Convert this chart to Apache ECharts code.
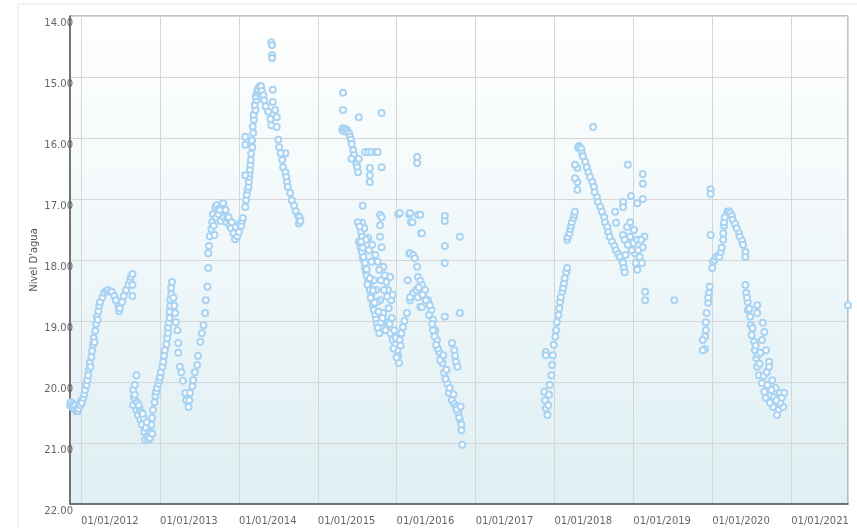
<!DOCTYPE html>
<html>
<head>
<meta charset="utf-8">
<script src="https://cdn.jsdelivr.net/npm/echarts@6/dist/echarts.min.js"></script>
<style>
  html, body { margin: 0; padding: 0; background: #fff; }
  #chart { width: 857px; height: 528px; }
</style>
</head>
<body>
<div id="chart"></div>
<script>
// [año decimal, nivel d'agua]
const medidas2011_2012 = [
  [2011.85, 20.30], [2011.86, 20.38], [2011.87, 20.33], [2011.89, 20.41], [2011.90, 20.36], [2011.91, 20.44],
  [2011.92, 20.39], [2011.94, 20.48], [2011.95, 20.43], [2011.96, 20.48], [2011.97, 20.44], [2011.99, 20.38],
  [2012.00, 20.31], [2012.01, 20.34], [2012.03, 20.26], [2012.04, 20.20], [2012.05, 20.13], [2012.06, 20.05],
  [2012.07, 20.05], [2012.08, 19.97], [2012.09, 19.89], [2012.10, 19.79], [2012.11, 19.69], [2012.12, 19.75],
  [2012.13, 19.59], [2012.14, 19.49], [2012.15, 19.39], [2012.16, 19.28], [2012.17, 19.35], [2012.18, 19.16],
  [2012.19, 19.05], [2012.20, 18.93], [2012.21, 18.98], [2012.22, 18.84], [2012.23, 18.75], [2012.24, 18.69],
  [2012.27, 18.61], [2012.29, 18.54], [2012.32, 18.51], [2012.34, 18.49], [2012.37, 18.52], [2012.39, 18.52],
  [2012.42, 18.59], [2012.44, 18.66], [2012.47, 18.75], [2012.48, 18.84], [2012.49, 18.79], [2012.51, 18.70],
  [2012.52, 18.69], [2012.54, 18.59], [2012.57, 18.49], [2012.60, 18.41], [2012.62, 18.33], [2012.63, 18.28],
  [2012.65, 18.23], [2012.65, 18.41], [2012.65, 18.59]
]

const medidas2012_2014 = [
  [2012.66, 20.13], [2012.67, 20.26], [2012.66, 20.38], [2012.68, 20.21], [2012.70, 19.89], [2012.70, 20.46],
  [2012.71, 20.34], [2012.72, 20.54], [2012.74, 20.43], [2012.75, 20.62], [2012.76, 20.49], [2012.77, 20.70],
  [2012.79, 20.59], [2012.80, 20.82], [2012.81, 20.95], [2012.82, 20.75], [2012.84, 20.89], [2012.85, 20.95],
  [2012.86, 20.82], [2012.87, 20.92], [2012.89, 20.70], [2012.90, 20.59], [2012.91, 20.46], [2012.93, 20.33],
  [2012.94, 20.23], [2012.95, 20.16], [2012.96, 20.10], [2012.98, 20.03], [2012.99, 19.97], [2013.00, 19.92],
  [2012.68, 20.05], [2012.73, 20.38], [2012.78, 20.52], [2012.83, 20.66], [2012.88, 20.82], [2012.90, 20.85],
  [2013.01, 19.84], [2013.03, 19.75], [2013.04, 19.67], [2013.05, 19.57], [2013.06, 19.48], [2013.08, 19.38],
  [2013.09, 19.28], [2013.10, 19.11], [2013.10, 19.20], [2013.11, 19.03], [2013.12, 18.95], [2013.12, 18.85],
  [2013.13, 18.75], [2013.13, 18.65], [2013.14, 18.56], [2013.14, 18.46], [2013.15, 18.36], [2013.17, 18.62],
  [2013.18, 18.75], [2013.19, 18.87], [2013.20, 19.02], [2013.22, 19.15], [2013.23, 19.36], [2013.23, 19.52],
  [2013.25, 19.75], [2013.27, 19.84], [2013.29, 19.98], [2013.32, 20.18], [2013.33, 20.30], [2013.36, 20.41],
  [2013.37, 20.30], [2013.38, 20.18], [2013.41, 20.07], [2013.42, 19.97], [2013.44, 19.84], [2013.47, 19.72],
  [2013.48, 19.57], [2013.51, 19.34], [2013.53, 19.20], [2013.55, 19.07], [2013.57, 18.87], [2013.58, 18.66],
  [2013.60, 18.44], [2013.61, 18.13], [2013.61, 17.89], [2013.62, 17.77], [2013.63, 17.61], [2013.65, 17.49],
  [2013.66, 17.38], [2013.67, 17.25], [2013.68, 17.44], [2013.69, 17.59], [2013.70, 17.13], [2013.71, 17.30],
  [2013.72, 17.10], [2013.74, 17.25], [2013.75, 17.15], [2013.76, 17.18], [2013.77, 17.36], [2013.79, 17.10],
  [2013.80, 17.07], [2013.81, 17.30], [2013.83, 17.18], [2013.84, 17.38], [2013.85, 17.31], [2013.87, 17.30],
  [2013.88, 17.43], [2013.90, 17.48], [2013.91, 17.38], [2013.93, 17.56], [2013.95, 17.66], [2013.96, 17.46],
  [2013.98, 17.61], [2014.00, 17.54], [2014.01, 17.41], [2014.03, 17.44], [2014.04, 17.36], [2014.05, 17.31],
  [2014.08, 17.13], [2014.09, 17.02], [2014.10, 16.93], [2014.11, 16.85], [2014.12, 16.80], [2014.125, 16.72],
  [2014.13, 16.64], [2014.135, 16.58], [2014.14, 16.52], [2014.145, 16.44], [2014.15, 16.36], [2014.155, 16.26],
  [2014.17, 16.15], [2014.165, 16.04], [2014.18, 15.92], [2014.175, 15.81], [2014.19, 15.70], [2014.185, 15.62],
  [2014.21, 15.54], [2014.20, 15.46], [2014.22, 15.38], [2014.215, 15.32], [2014.23, 15.26], [2014.235, 15.22],
  [2014.24, 15.20], [2014.26, 15.16], [2014.27, 15.15], [2014.28, 15.15], [2014.29, 15.23], [2014.31, 15.30],
  [2014.32, 15.38], [2014.34, 15.48], [2014.37, 15.57], [2014.40, 15.69], [2014.41, 15.79],
  [2014.08, 15.98], [2014.08, 16.11], [2014.08, 16.61],
  [2014.41, 14.43], [2014.42, 14.48], [2014.42, 14.64], [2014.42, 14.69], [2014.43, 15.21], [2014.43, 15.41],
  [2014.46, 15.54], [2014.48, 15.66], [2014.48, 15.82], [2014.59, 16.25],
  [2014.50, 16.03], [2014.51, 16.15], [2014.53, 16.25], [2014.55, 16.36], [2014.56, 16.48], [2014.59, 16.56],
  [2014.60, 16.64], [2014.61, 16.72], [2014.62, 16.80], [2014.65, 16.90], [2014.67, 17.02], [2014.70, 17.11],
  [2014.72, 17.20], [2014.75, 17.28], [2014.76, 17.40], [2014.77, 17.30], [2014.78, 17.36]
]

const medidas2015_2016 = [
  [2015.32, 15.26], [2015.32, 15.54], [2015.52, 15.66], [2015.81, 15.59],
  [2015.31, 15.87], [2015.32, 15.84], [2015.33, 15.89], [2015.35, 15.85], [2015.36, 15.89], [2015.37, 15.87],
  [2015.38, 15.90], [2015.40, 15.93], [2015.41, 15.98], [2015.42, 16.03], [2015.43, 16.10], [2015.45, 16.20],
  [2015.46, 16.28], [2015.47, 16.36], [2015.49, 16.43], [2015.50, 16.48], [2015.51, 16.56],
  [2015.43, 16.34], [2015.52, 16.34], [2015.60, 16.23], [2015.64, 16.23], [2015.68, 16.23], [2015.73, 16.23],
  [2015.76, 16.23], [2015.66, 16.49], [2015.66, 16.61], [2015.66, 16.72], [2015.81, 16.48], [2016.26, 16.31],
  [2016.26, 16.41],
  [2015.57, 17.11], [2015.56, 17.39], [2015.79, 17.26], [2015.81, 17.30], [2015.79, 17.43], [2016.02, 17.25],
  [2016.16, 17.25], [2016.18, 17.38], [2016.27, 17.26], [2016.61, 17.28], [2016.61, 17.36], [2016.31, 17.56],
  [2016.80, 17.62], [2016.61, 17.77], [2016.61, 18.05], [2016.16, 17.89],
  [2015.51, 17.38], [2015.54, 17.46], [2015.55, 17.54], [2015.56, 17.62], [2015.52, 17.70], [2015.54, 17.79],
  [2015.56, 17.87], [2015.57, 17.97], [2015.59, 18.03], [2015.60, 18.13], [2015.61, 18.20], [2015.62, 18.26],
  [2015.64, 18.33], [2015.65, 18.41], [2015.66, 18.49], [2015.68, 18.57], [2015.69, 18.66], [2015.70, 18.74],
  [2015.71, 18.82], [2015.73, 18.90], [2015.74, 18.98], [2015.75, 19.05], [2015.76, 19.11],
  [2015.64, 17.64], [2015.69, 17.75], [2015.73, 17.92], [2015.76, 18.03], [2015.79, 17.62], [2015.81, 17.79],
  [2015.83, 18.11], [2015.85, 18.25], [2015.87, 18.36], [2015.89, 18.49], [2015.92, 18.28], [2015.93, 18.66],
  [2015.95, 18.57], [2015.79, 18.66], [2015.83, 18.87], [2015.87, 19.10], [2015.92, 19.20], [2015.95, 19.31],
  [2015.98, 19.39], [2016.01, 19.48], [2016.03, 19.69], [2016.02, 19.57], [2015.99, 19.28], [2015.94, 18.95],
  [2015.90, 18.79], [2015.84, 18.49], [2015.80, 18.33], [2015.78, 18.16], [2015.74, 18.49], [2015.71, 18.33],
  [2015.68, 18.03], [2015.65, 17.84], [2015.61, 17.67], [2015.59, 17.48], [2015.75, 18.69], [2015.80, 19.02],
  [2015.89, 19.02], [2015.97, 19.15], [2016.04, 19.31], [2016.08, 19.10], [2016.13, 18.87], [2016.17, 18.66],
  [2016.21, 18.54], [2016.25, 18.49], [2016.27, 18.61], [2016.30, 18.77], [2016.32, 18.77], [2016.14, 18.33],
  [2016.17, 18.61], [2016.04, 17.23], [2016.17, 17.23], [2016.30, 17.26], [2016.20, 17.38], [2016.32, 17.56],
  [2015.53, 17.45], [2015.55, 17.70], [2015.57, 17.80], [2015.58, 17.95], [2015.60, 18.05], [2015.62, 18.15],
  [2015.63, 18.40], [2015.66, 18.30], [2015.67, 18.62], [2015.70, 18.50], [2015.72, 18.70], [2015.77, 18.85],
  [2015.78, 19.20], [2015.82, 18.95], [2015.86, 19.15], [2015.88, 18.60], [2015.91, 19.05], [2015.96, 19.45],
  [2016.00, 19.60], [2016.05, 19.40], [2016.10, 19.00], [2016.06, 19.20],
  [2016.17, 17.89], [2016.21, 17.92], [2016.23, 17.97], [2016.26, 18.11], [2016.27, 18.28], [2016.30, 18.34],
  [2016.32, 18.41], [2016.36, 18.49], [2016.40, 18.66], [2016.44, 18.82], [2016.46, 18.98], [2016.49, 19.15],
  [2016.51, 19.31], [2016.54, 19.51], [2016.58, 19.69], [2016.60, 19.85], [2016.64, 20.02], [2016.66, 20.18],
  [2016.70, 20.30], [2016.73, 20.36], [2016.75, 20.41], [2016.78, 20.51], [2016.80, 20.62], [2016.82, 20.70],
  [2016.82, 20.79], [2016.83, 21.03],
  [2016.28, 18.45], [2016.34, 18.60], [2016.38, 18.72], [2016.41, 18.90], [2016.45, 19.05], [2016.48, 19.25],
  [2016.52, 19.45], [2016.56, 19.62], [2016.62, 19.95], [2016.67, 20.10], [2016.72, 20.20], [2016.76, 20.45],
  [2016.79, 20.58], [2016.81, 20.40],
  [2016.70, 19.36], [2016.73, 19.48], [2016.74, 19.57], [2016.75, 19.67], [2016.77, 19.75], [2016.80, 18.87],
  [2016.61, 18.93], [2016.33, 18.57], [2016.37, 18.66], [2016.42, 18.74], [2016.46, 19.15], [2016.50, 19.39],
  [2016.55, 19.64], [2016.59, 19.56], [2016.63, 19.80]
]

const medidas2017_2019 = [
  [2017.89, 19.51], [2017.89, 19.56],
  [2017.87, 20.16], [2017.88, 20.30], [2017.89, 20.43],
  [2017.91, 20.54], [2017.92, 20.38], [2017.93, 20.21], [2017.94, 20.05], [2017.96, 19.89], [2017.97, 19.72],
  [2017.98, 19.56], [2017.99, 19.39], [2018.01, 19.26], [2018.02, 19.15], [2018.03, 19.02], [2018.05, 18.90],
  [2018.06, 18.79], [2018.07, 18.69], [2018.08, 18.61], [2018.10, 18.52], [2018.11, 18.46], [2018.12, 18.38],
  [2018.13, 18.30], [2018.15, 18.20], [2018.16, 18.13],
  [2018.16, 17.67], [2018.17, 17.62], [2018.19, 17.56], [2018.20, 17.49], [2018.21, 17.44], [2018.22, 17.38],
  [2018.24, 17.31], [2018.25, 17.26], [2018.26, 17.21],
  [2018.29, 16.85], [2018.29, 16.72], [2018.26, 16.66], [2018.29, 16.49], [2018.26, 16.44],
  [2018.30, 16.16], [2018.31, 16.13], [2018.32, 16.15], [2018.34, 16.18], [2018.49, 15.82],
  [2018.35, 16.25], [2018.36, 16.30], [2018.39, 16.39], [2018.41, 16.48], [2018.43, 16.56], [2018.45, 16.64],
  [2018.48, 16.72], [2018.50, 16.80], [2018.51, 16.89], [2018.54, 16.97], [2018.55, 17.05], [2018.58, 17.13],
  [2018.60, 17.21], [2018.63, 17.30], [2018.64, 17.38], [2018.67, 17.46], [2018.68, 17.54], [2018.70, 17.62],
  [2018.73, 17.70], [2018.76, 17.77], [2018.78, 17.84], [2018.81, 17.90], [2018.83, 17.95], [2018.86, 18.02],
  [2018.87, 18.05], [2018.88, 18.13], [2018.89, 18.20],
  [2018.87, 17.59], [2018.89, 17.67], [2018.92, 17.46], [2018.96, 17.38], [2018.96, 17.62], [2019.00, 17.72],
  [2019.05, 17.67], [2019.02, 17.89], [2019.03, 18.05], [2019.08, 17.95], [2019.12, 17.79], [2019.14, 17.62],
  [2019.05, 18.16], [2019.11, 18.05], [2018.98, 17.84], [2019.01, 17.51], [2019.06, 17.84], [2019.10, 17.67],
  [2018.93, 17.75], [2018.90, 17.92],
  [2018.93, 16.44], [2019.12, 16.59], [2019.12, 16.75], [2019.12, 17.00], [2018.97, 16.95], [2019.05, 17.07],
  [2018.87, 17.05], [2018.87, 17.13], [2018.77, 17.21], [2018.78, 17.39],
  [2019.15, 18.52], [2019.15, 18.66], [2019.52, 18.66]
]

const medidas2019_2021 = [
  [2019.98, 16.84], [2019.98, 16.92], [2019.98, 17.59],
  [2019.97, 18.44], [2019.96, 18.54], [2019.95, 18.70], [2019.93, 18.87], [2019.92, 19.02], [2019.91, 19.26],
  [2019.91, 19.46], [2019.88, 19.31], [2019.88, 19.48], [2019.92, 19.15], [2019.95, 18.62],
  [2020.00, 18.13], [2020.01, 18.03], [2020.03, 18.00], [2020.05, 17.95], [2020.08, 17.93], [2020.09, 17.95],
  [2020.11, 17.87], [2020.12, 17.80], [2020.14, 17.67], [2020.14, 17.56], [2020.15, 17.44], [2020.15, 17.38],
  [2020.16, 17.30], [2020.19, 17.21], [2020.21, 17.20], [2020.23, 17.23], [2020.25, 17.28], [2020.26, 17.34],
  [2020.29, 17.41], [2020.31, 17.48], [2020.34, 17.56], [2020.35, 17.62], [2020.38, 17.69], [2020.39, 17.75],
  [2020.42, 17.87], [2020.42, 17.95],
  [2020.42, 18.41], [2020.43, 18.54], [2020.45, 18.69], [2020.45, 18.82], [2020.48, 18.93], [2020.49, 19.07],
  [2020.50, 19.23], [2020.53, 19.34], [2020.54, 19.48], [2020.56, 19.61], [2020.57, 19.75], [2020.59, 19.89],
  [2020.63, 20.02], [2020.66, 20.16], [2020.68, 20.26],
  [2020.44, 18.62], [2020.47, 18.80], [2020.51, 19.12], [2020.55, 19.40], [2020.58, 19.55], [2020.60, 19.70],
  [2020.65, 19.90], [2020.70, 20.05], [2020.74, 20.22], [2020.78, 20.25], [2020.84, 20.45], [2020.87, 20.38],
  [2020.57, 18.74], [2020.57, 18.87], [2020.64, 19.03], [2020.66, 19.18], [2020.61, 19.52], [2020.72, 19.67],
  [2020.72, 19.75], [2020.76, 19.97], [2020.80, 20.10], [2020.86, 20.18], [2020.91, 20.18], [2020.90, 20.41],
  [2020.82, 20.54], [2020.86, 20.34], [2020.88, 20.26], [2020.77, 20.41], [2020.73, 20.34],
  [2020.63, 19.31], [2020.68, 19.48], [2020.69, 19.84], [2020.75, 20.13], [2020.81, 20.30],
  [2021.72, 18.74]
]

const inicio = 2011.86
const fin = 2021.72

// año decimal -> marca de tiempo
function toTime (yearFrac) {
  const y = Math.floor(yearFrac)
  const start = new Date(y, 0, 1).getTime()
  const end = new Date(y + 1, 0, 1).getTime()
  return start + (yearFrac - y) * (end - start)
}

function pad (n) {
  return n < 10 ? '0' + n : '' + n
}

const puntos = [].concat(medidas2011_2012, medidas2012_2014, medidas2015_2016, medidas2017_2019, medidas2019_2021)
  .map(function (p) { return [toTime(p[0]), p[1]] })

const fuente = 'DejaVu Sans'

const chart = echarts.init(document.getElementById('chart'))
const option = {
  animation: false,
  graphic: [
    {
      type: 'rect',
      shape: { x: 18, y: 4, width: 850, height: 540 },
      style: { fill: 'none', stroke: '#e6e6e6', lineWidth: 1 },
      z: -10
    }
  ],
  grid: {
    left: 70,
    right: 9,
    top: 16,
    bottom: 24,
    show: true,
    borderColor: '#888',
    borderWidth: 1,
    backgroundColor: new echarts.graphic.LinearGradient(0, 0, 0, 1, [
      { offset: 0, color: '#ffffff' },
      { offset: 1, color: '#dfeff3' }
    ])
  },
  xAxis: {
    type: 'time',
    min: toTime(inicio),
    max: toTime(fin),
    splitNumber: 10,
    axisLine: { show: true, lineStyle: { color: '#555', width: 1.5 } },
    axisTick: { show: false },
    splitLine: { show: true, lineStyle: { color: '#d6d6d6', width: 1 } },
    axisLabel: {
      align: 'left',
      margin: 12,
      color: '#666',
      fontFamily: fuente,
      fontSize: 10,
      hideOverlap: false,
      formatter: function (v) {
        const d = new Date(v)
        if (d.getMonth() !== 0 || d.getDate() !== 1) {
          return ''
        }
        return pad(d.getDate()) + '/' + pad(d.getMonth() + 1) + '/' + d.getFullYear()
      }
    }
  },
  yAxis: {
    type: 'value',
    inverse: true,
    min: 14,
    max: 22,
    interval: 1,
    name: "Nivel D'agua",
    nameLocation: 'middle',
    nameGap: 31,
    nameMoveOverlap: false,
    nameTextStyle: { color: '#555', fontFamily: fuente, fontSize: 10 },
    axisLine: { show: true, lineStyle: { color: '#555', width: 1.5 } },
    axisTick: { show: false },
    splitLine: { lineStyle: { color: '#d6d6d6', width: 1 } },
    axisLabel: {
      margin: -3,
      verticalAlign: 'top',
      padding: [2, 0, 0, 0],
      color: '#666',
      fontFamily: fuente,
      fontSize: 10,
      formatter: function (v) { return v.toFixed(2) }
    }
  },
  series: [
    {
      type: 'scatter',
      symbol: 'circle',
      symbolSize: 6,
      itemStyle: {
        color: '#ffffff',
        borderColor: '#a9d3f2',
        borderWidth: 2,
        opacity: 1
      },
      data: puntos
    }
  ]
}
chart.setOption(option)
</script>
</body>
</html>
